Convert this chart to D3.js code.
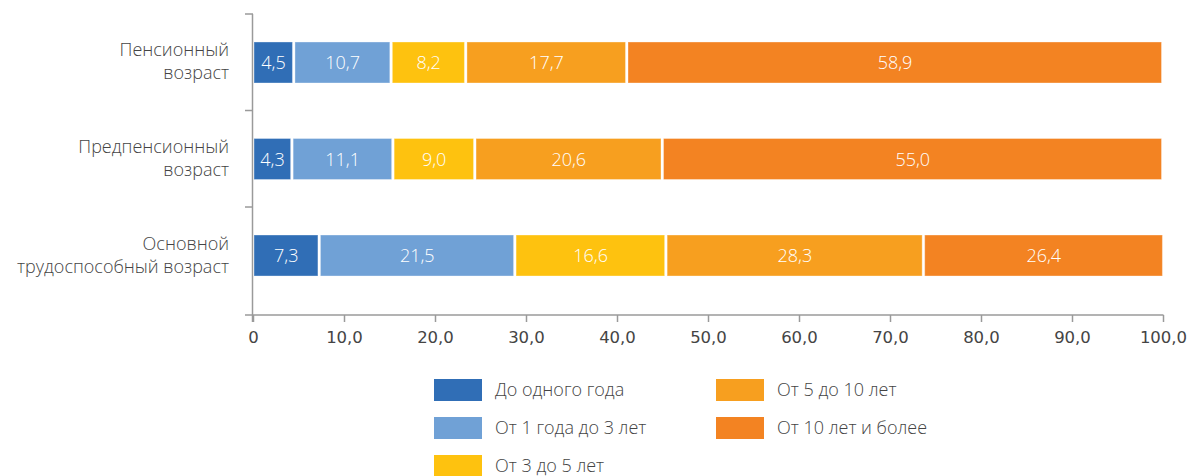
<!DOCTYPE html>
<html>
<head>
<meta charset="utf-8">
<script src="https://cdn.jsdelivr.net/npm/d3@7"></script>
<style>
  body { margin: 0; background: #fff; }
  svg { display: block; }
  .cat, .lbl, .leg { font-family: "Open Sans", sans-serif; font-weight: 300; }
  .axis text { font-family: "DejaVu Sans", sans-serif; }
</style>
</head>
<body>
<div id="chart"></div>
<script>
// Categories (top to bottom), each one split in two lines
var categories = ["Пенсионный возраст", "Предпенсионный возраст", "Основной трудоспособный возраст"];
var catLines = [["Пенсионный", "возраст"], ["Предпенсионный", "возраст"], ["Основной", "трудоспособный возраст"]];

// Series (stack order, left to right)
var seriesNames = ["До одного года", "От 1 года до 3 лет", "От 3 до 5 лет", "От 5 до 10 лет", "От 10 лет и более"];
var seriesColors = ["#306eb6", "#70a1d6", "#fec20f", "#f79f1f", "#f38322"];

// Values per series, in category order
var lessThan1 = [4.5, 4.3, 7.3];
var from1to3 = [10.7, 11.1, 21.5];
var from3to5 = [8.2, 9.0, 16.6];
var from5to10 = [17.7, 20.6, 28.3];
var over10 = [58.9, 55.0, 26.4];

var xTicks = [0, 10, 20, 30, 40, 50, 60, 70, 80, 90, 100];

//Width and height
var w = 1188;
var h = 476;

// build rows for the stack
var cols = [lessThan1, from1to3, from3to5, from5to10, over10];
var rows = categories.map(function(c, i) {
  var r = { cat: c };
  seriesNames.forEach(function(s, j) { r[s] = cols[j][i]; });
  return r;
});

var stack = d3.stack().keys(seriesNames);
var series = stack(rows);

var xScale = d3.scaleLinear().domain([0, 100]).range([253, 1163]);
var yScale = d3.scaleBand().domain(categories).range([14, 304]).paddingInner(0.575).paddingOuter(0.29);

var fmt = function(v) { return v === 0 ? "0" : d3.format(".1f")(v).replace(".", ","); };

var svg = d3.select("#chart").append("svg").attr("width", w).attr("height", h);

// bars
var groups = svg.selectAll("g.series")
  .data(series)
  .enter()
  .append("g")
  .attr("class", "series")
  .style("fill", function(d, i) { return seriesColors[i]; });

groups.selectAll("rect")
  .data(function(d) { return d; })
  .enter()
  .append("rect")
  .attr("x", function(d) { return xScale(d[0]) + 1; })
  .attr("y", function(d) { return yScale(d.data.cat); })
  .attr("width", function(d) { return Math.max(0, xScale(d[1]) - xScale(d[0]) - 2.5); })
  .attr("height", yScale.bandwidth())
  .attr("stroke", "rgba(255,255,255,0.35)")
  .attr("stroke-width", 1);

// value labels
groups.selectAll("text")
  .data(function(d) { return d; })
  .enter()
  .append("text")
  .attr("class", "lbl")
  .attr("x", function(d) { return (xScale(d[0]) + xScale(d[1])) / 2; })
  .attr("y", function(d) { return yScale(d.data.cat) + yScale.bandwidth() / 2 + 6.5; })
  .attr("text-anchor", "middle")
  .style("fill", "#fff")
  .style("font-size", "18px")
  .text(function(d) { return fmt(d[1] - d[0]); });

// category labels, one text per line
categories.forEach(function(c, i) {
  var cy = yScale(c) + yScale.bandwidth() / 2;
  catLines[i].forEach(function(line, k) {
    svg.append("text")
      .attr("class", "cat")
      .attr("text-anchor", "end")
      .attr("x", 229)
      .attr("y", cy - 6 + k * 23)
      .style("font-size", "18px")
      .style("fill", "#444")
      .text(line);
  });
});

// y axis line with band ticks
var step = yScale.step();
var yTickPos = [14, 14 + step, 14 + 2 * step];
svg.append("line")
  .attr("x1", 252.5).attr("x2", 252.5).attr("y1", 14).attr("y2", 322)
  .attr("stroke", "#9a9a9a").attr("stroke-width", 1.5);
svg.selectAll("line.ytick")
  .data(yTickPos)
  .enter()
  .append("line")
  .attr("class", "ytick")
  .attr("x1", 245).attr("x2", 253)
  .attr("y1", function(d) { return d; }).attr("y2", function(d) { return d; })
  .attr("stroke", "#9a9a9a").attr("stroke-width", 1.5);

// x axis
var xAxis = d3.axisBottom(xScale)
  .tickValues(xTicks)
  .tickSize(7)
  .tickSizeOuter(0)
  .tickPadding(9)
  .tickFormat(fmt);

var gx = svg.append("g")
  .attr("class", "axis x")
  .attr("transform", "translate(0,315)")
  .call(xAxis);
gx.select(".domain").remove();
gx.append("line")
  .attr("x1", 245).attr("x2", 1163.5).attr("y1", 0).attr("y2", 0)
  .attr("stroke", "#9a9a9a").attr("stroke-width", 1.5);
gx.selectAll(".tick line").attr("stroke", "#9a9a9a").attr("stroke-width", 1.5);
gx.selectAll(".tick text").style("font-size", "16.5px").style("fill", "#444");

// legend
var legPos = [[434, 379], [434, 417], [434, 455], [716, 379], [716, 417]];
var leg = svg.selectAll("g.leg")
  .data(seriesNames)
  .enter()
  .append("g")
  .attr("class", "leg")
  .attr("transform", function(d, i) { return "translate(" + legPos[i][0] + "," + legPos[i][1] + ")"; });

leg.append("rect")
  .attr("width", 48).attr("height", 22)
  .style("fill", function(d, i) { return seriesColors[i]; });

leg.append("text")
  .attr("x", 61).attr("y", 17)
  .style("font-size", "18px")
  .style("fill", "#444")
  .text(function(d) { return d; });
</script>
</body>
</html>
